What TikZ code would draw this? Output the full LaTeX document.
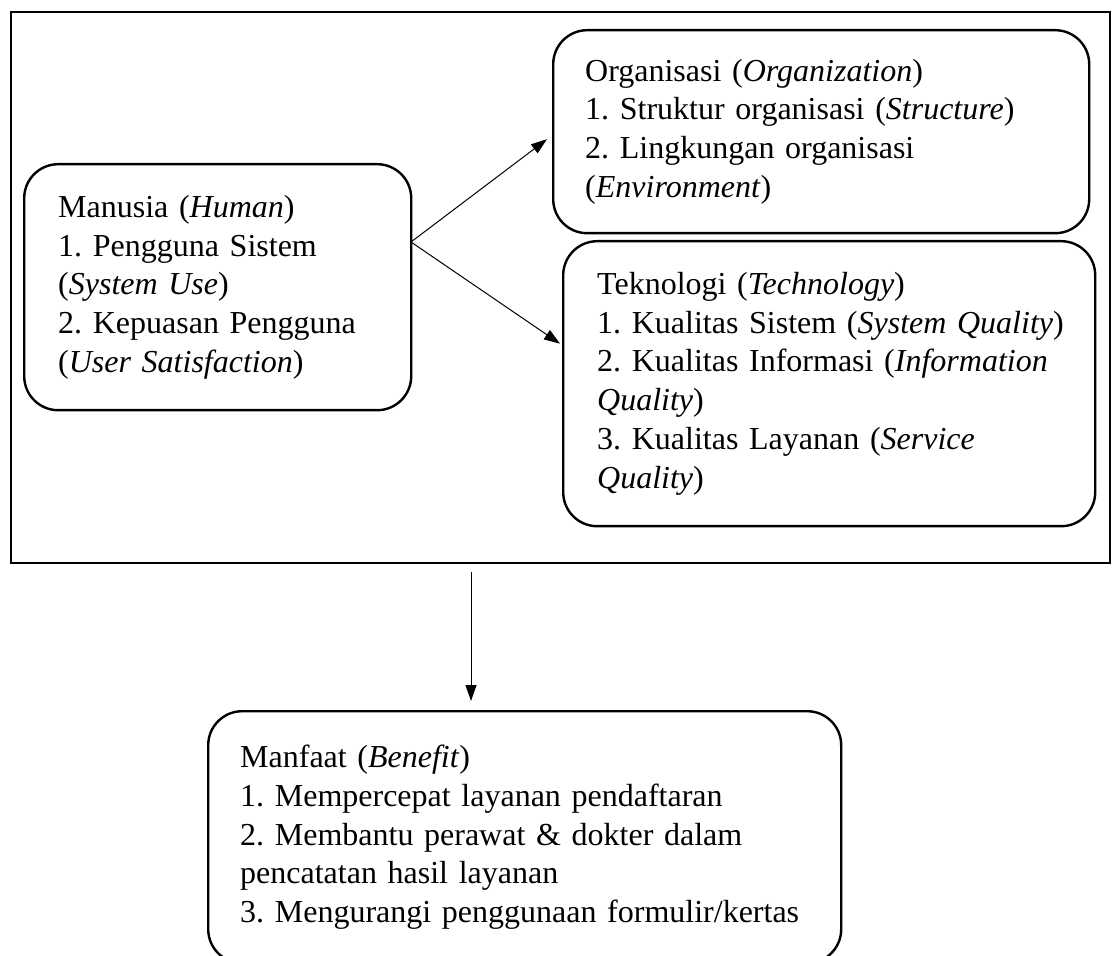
\documentclass[tikz,border=0pt]{standalone}
\usepackage{fontspec}
\setmainfont{Liberation Serif}
\usetikzlibrary{arrows.meta}
\tikzset{
  rbox/.style={draw,line width=1.2pt,rounded corners=17pt,anchor=north west,
    align=left,font=\fontsize{16}{19.4}\selectfont\frenchspacing},
  arr/.style={-{Triangle[length=8pt,width=5.5pt]},line width=0.5pt}
}

\begin{document}
\begin{tikzpicture}[x=0.5pt,y=-0.5pt]
  \useasboundingbox (0,0) rectangle (1119,956);
  \clip (0,0) rectangle (1119,956);
  \node[draw,line width=1pt,inner sep=0pt,anchor=north west,
    minimum width=549.5pt,minimum height=275.5pt] (frame) at (10,11) {};
  \node[rbox,minimum width=193.5pt,minimum height=123pt,text width=159.5pt,
    inner xsep=17pt] (human) at (23,163)
    {Manusia (\textit{Human})\\
     1. Pengguna Sistem\\
     (\textit{System Use})\\
     2. Kepuasan Pengguna\\
     (\textit{User Satisfaction})};
  \node[rbox,minimum width=268pt,minimum height=101.5pt,text width=236pt,
    inner xsep=16pt] (org) at (552,29)
    {Organisasi (\textit{Organization})\\
     1. Struktur organisasi (\textit{Structure})\\
     2. Lingkungan organisasi\\
     (\textit{Environment})};
  \node[rbox,minimum width=266pt,minimum height=142.5pt,text width=232pt,
    inner xsep=17pt] (tech) at (562,240)
    {Teknologi (\textit{Technology})\\
     \mbox{1. Kualitas Sistem (\textit{System Quality})}\\
     2. Kualitas Informasi (\textit{Information}\\
     \textit{Quality})\\
     3. Kualitas Layanan (\textit{Service}\\
     \textit{Quality})};
  \node[rbox,minimum width=316.5pt,minimum height=126pt,text width=284.5pt,
    inner xsep=16pt] (benefit) at (207,710)
    {Manfaat (\textit{Benefit})\\
     1. Mempercepat layanan pendaftaran\\
     2. Membantu perawat \& dokter dalam\\
     pencatatan hasil layanan\\
     3. Mengurangi penggunaan formulir/kertas};
  \coordinate (fork) at (411,242);
  \draw[arr] (fork) -- ([xshift=-2.5pt,yshift=-3.75pt]org.west);
  \draw[arr] (fork) -- ([xshift=-1pt,yshift=20pt]tech.west);
  \coordinate (drop) at (471,572);
  \draw[arr] (drop) -- ([yshift=4.5pt]drop |- benefit.north);
\end{tikzpicture}
\end{document}
